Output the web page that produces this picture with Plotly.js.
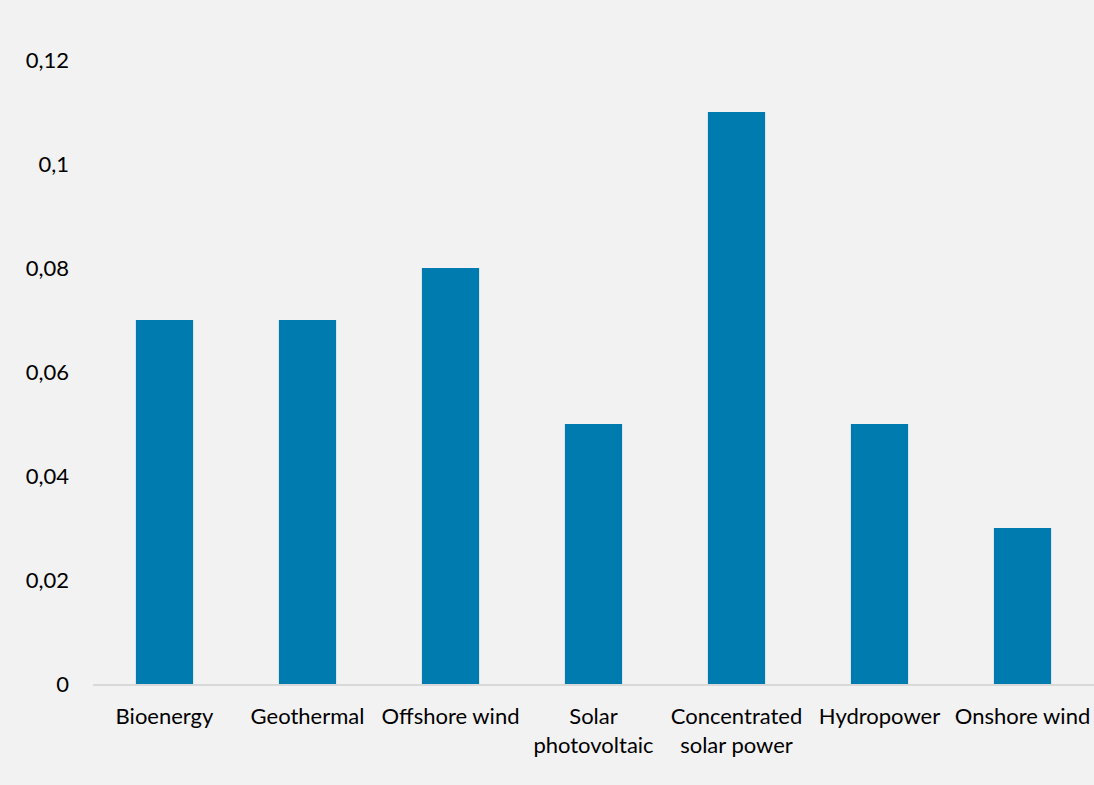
<!DOCTYPE html>
<html>
<head>
<meta charset="utf-8">
<script src="https://cdn.plot.ly/plotly-3.0.1.min.js"></script>
<style>
  html, body { margin: 0; padding: 0; background: #f2f2f2; }
  #chart { width: 1094px; height: 785px; }
</style>
</head>
<body>
<div id="chart"></div>
<script>
// Technology categories along the x axis
const categories = [
  "Bioenergy",
  "Geothermal",
  "Offshore wind",
  "Solar<br>photovoltaic",
  "Concentrated<br>solar power",
  "Hydropower",
  "Onshore wind"
];

// Value for each technology
const values = [0.07, 0.07, 0.08, 0.05, 0.11, 0.05, 0.03];

// Y axis ticks (comma decimal separator)
const yTickVals = [0, 0.02, 0.04, 0.06, 0.08, 0.1, 0.12];
const yTickText = ["0", "0,02", "0,04", "0,06", "0,08", "0,1", "0,12"];

const trace = {
  type: "bar",
  x: categories,
  y: values,
  marker: { color: "#007bb0" },
  hoverinfo: "x+y"
};

const layout = {
  width: 1094,
  height: 785,
  paper_bgcolor: "#f2f2f2",
  plot_bgcolor: "#f2f2f2",
  margin: { l: 93, r: 0, t: 60, b: 101 },
  bargap: 0.6,
  showlegend: false,
  font: { family: "Lato, 'Open Sans', sans-serif", size: 22, color: "#000000" },
  xaxis: {
    showgrid: false,
    zeroline: false,
    showline: true,
    linecolor: "#d9d9d9",
    linewidth: 2,
    ticks: "",
    ticklabelstandoff: 12,
    tickfont: { size: 22, color: "#000000" }
  },
  yaxis: {
    range: [0, 0.12],
    showgrid: false,
    zeroline: false,
    showline: false,
    ticks: "",
    tickvals: yTickVals,
    ticktext: yTickText,
    ticklabelstandoff: 23,
    tickfont: { size: 22, color: "#000000" }
  }
};

Plotly.newPlot("chart", [trace], layout, { displayModeBar: false, staticPlot: true });
</script>
</body>
</html>
